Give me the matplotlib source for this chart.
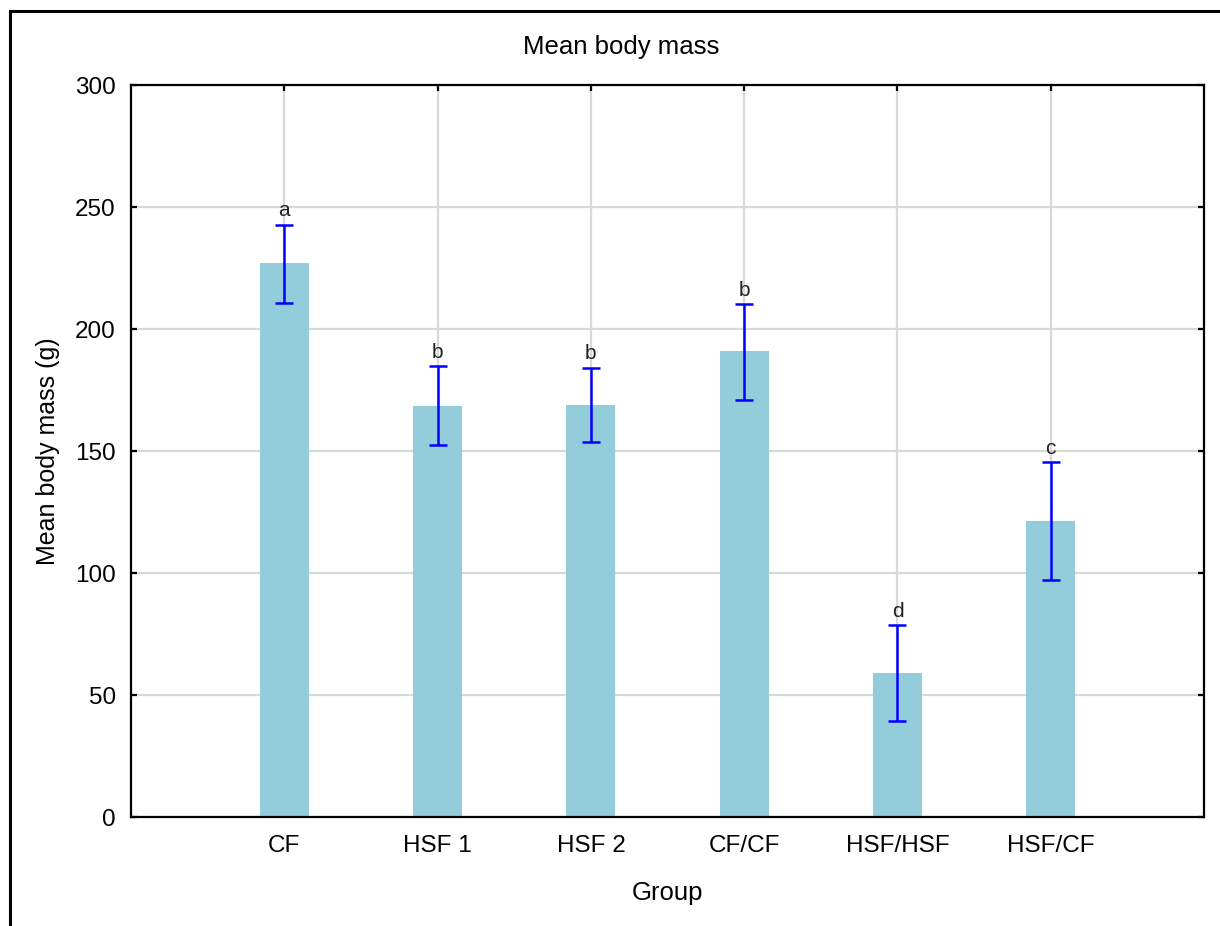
import numpy as np
import matplotlib
matplotlib.use("Agg")
import matplotlib.pyplot as plt
from matplotlib.lines import Line2D

plt.rcParams['font.family'] = ['Liberation Sans', 'DejaVu Sans']

# данные
groups = ["CF", "HSF 1", "HSF 2", "CF/CF", "HSF/HSF", "HSF/CF"]
means = [227.0, 168.5, 169.0, 191.0, 59.0, 121.5]
err_upper = [242.8, 184.8, 184.2, 210.2, 78.6, 145.3]
err_lower = [210.5, 152.5, 153.5, 171.0, 39.2, 97.3]
letters = ["a", "b", "b", "b", "d", "c"]
y_ticks = [0, 50, 100, 150, 200, 250, 300]

bar_color = '#93cddb'

fig = plt.figure(figsize=(12.2, 9.26), dpi=100, facecolor='white')
ax = fig.add_axes([0.1074, 0.1177, 0.8795, 0.7905])

x = np.arange(1, len(groups) + 1)
means_a = np.array(means)
yerr = [means_a - np.array(err_lower), np.array(err_upper) - means_a]

ax.bar(x, means, width=0.32, color=bar_color, zorder=2)
ax.errorbar(x, means, yerr=yerr, fmt='none', ecolor='#0000ff', elinewidth=1.8,
            capsize=6.3, capthick=1.8, zorder=3)

for xi, top, lab in zip(x, err_upper, letters):
    ax.annotate(lab, (xi, top), xytext=(0, 6), textcoords='offset points',
                ha='center', va='baseline', fontsize=15, color='#222222')

ax.set_xlim(0, len(groups) + 1)
ax.set_ylim(0, 300)
ax.set_xticks(x)
ax.set_xticklabels(groups)
ax.set_yticks(y_ticks)

ax.grid(True, color='#d9d9d9', linewidth=1.6, zorder=0)
ax.set_axisbelow(True)
for sp in ax.spines.values():
    sp.set_linewidth(1.6)
    sp.set_color('black')

ax.tick_params(axis='both', direction='in', length=4, width=1.6,
               top=True, right=True, labelsize=17.5, colors='black')
ax.tick_params(axis='y', pad=11)
ax.tick_params(axis='x', pad=13)

ax.set_ylabel("Mean body mass (g)", fontsize=18, labelpad=11)
fig.text(0.547, 0.0356, "Group", ha='center', va='center', fontsize=18.5)
fig.text(0.509, 0.949, "Mean body mass", ha='center', va='center', fontsize=18.5)

# внешняя рамка (видны левая и верхняя стороны)
fig.add_artist(Line2D([10 / 1220, 10 / 1220], [0, 1 - 11 / 926],
                      transform=fig.transFigure, color='black', linewidth=2.2))
fig.add_artist(Line2D([10 / 1220, 1], [1 - 11 / 926, 1 - 11 / 926],
                      transform=fig.transFigure, color='black', linewidth=2.2))

fig.savefig("out.png", dpi=100, facecolor='white')
